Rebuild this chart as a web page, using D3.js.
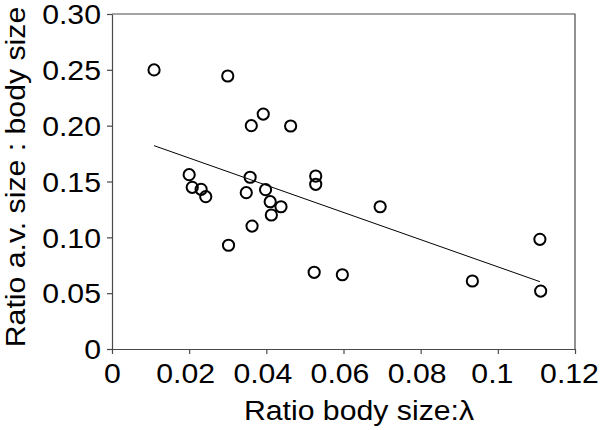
<!DOCTYPE html>
<html>
<head>
<meta charset="utf-8">
<script src="https://cdn.jsdelivr.net/npm/d3@7"></script>
<style>
  html, body { margin: 0; padding: 0; background: #fff; }
  svg { display: block; }
  text { font-family: "Liberation Sans", Arial, Helvetica, sans-serif; fill: #000; }
</style>
</head>
<body>
<svg id="chart" width="600" height="430"></svg>
<script>
// Data
const xValues = [0.0109, 0.0300, 0.0392, 0.0361, 0.0463, 0.0200, 0.0208, 0.0231, 0.0243, 0.0358,
                 0.0348, 0.0398, 0.0410, 0.0438, 0.0413, 0.0363, 0.0302, 0.0528, 0.0528, 0.0695,
                 0.0524, 0.0597, 0.0934, 0.1109, 0.1111];
const yValues = [0.2499, 0.2445, 0.2104, 0.2000, 0.1997, 0.1561, 0.1448, 0.1430, 0.1364, 0.1538,
                 0.1400, 0.1427, 0.1319, 0.1274, 0.1200, 0.1101, 0.0929, 0.1549, 0.1475, 0.1274,
                 0.0687, 0.0665, 0.0609, 0.0982, 0.0519];
const fitLineX = [0.0109, 0.1109];
const fitLineY = [0.1821, 0.0603];
const xTicks = [0, 0.02, 0.04, 0.06, 0.08, 0.1, 0.12];
const xTickLabels = ["0", "0.02", "0.04", "0.06", "0.08", "0.1", "0.12"];
const yTicks = [0, 0.05, 0.10, 0.15, 0.20, 0.25, 0.30];
const yTickLabels = ["0", "0.05", "0.10", "0.15", "0.20", "0.25", "0.30"];
const xTitle = "Ratio body size:\u03bb";
const yTitle = "Ratio a.v. size : body size";

const svg = d3.select("#chart");
const mLeft = 112, mRight = 575, mTop = 14, mBottom = 349;
const fontSize = 27;
const stretch = 1.12; // glyphs in the reference are slightly wider than Arial

const x = d3.scaleLinear().domain([0, 0.12]).range([mLeft, mRight]);
const y = d3.scaleLinear().domain([0, 0.30]).range([mBottom, mTop]);

// frame (top and right)
svg.append("path")
  .attr("d", `M${mLeft},${mTop}H${mRight}V${mBottom}`)
  .attr("fill", "none").attr("stroke", "#4a4a4a").attr("stroke-width", 1.2);

const xAxis = svg.append("g").attr("transform", `translate(0,${mBottom})`)
  .call(d3.axisBottom(x).tickValues(xTicks).tickFormat((d, i) => xTickLabels[i]).tickSize(5).tickSizeOuter(0));
const yAxis = svg.append("g").attr("transform", `translate(${mLeft},0)`)
  .call(d3.axisLeft(y).tickValues(yTicks).tickFormat((d, i) => yTickLabels[i]).tickSize(5).tickSizeOuter(0));

[xAxis, yAxis].forEach(g => {
  g.selectAll("path.domain").attr("stroke", "#4a4a4a").attr("stroke-width", 1.2);
  g.selectAll(".tick line").attr("stroke", "#4a4a4a").attr("stroke-width", 1.2);
  g.selectAll(".tick text")
    .style("font-family", '"Liberation Sans", Arial, sans-serif')
    .style("font-size", fontSize + "px")
    .attr("fill", "#000");
});
xAxis.selectAll(".tick text")
  .attr("x", 0).attr("y", 0).attr("dy", 0)
  .attr("transform", (d, i) => `translate(${i === 0 ? 0 : (i >= 5 ? -6 : -4)},34) scale(${stretch},1)`);
yAxis.selectAll(".tick text")
  .attr("x", 0).attr("dy", "0.36em")
  .attr("transform", `translate(-11,0) scale(${stretch},1)`);

// fit line
svg.append("line")
  .attr("x1", x(fitLineX[0])).attr("y1", y(fitLineY[0]))
  .attr("x2", x(fitLineX[1])).attr("y2", y(fitLineY[1]))
  .attr("stroke", "#000").attr("stroke-width", 1);

// points
svg.append("g").selectAll("circle")
  .data(xValues.map((v, i) => [v, yValues[i]]))
  .join("circle")
  .attr("cx", d => x(d[0])).attr("cy", d => y(d[1]))
  .attr("r", 5.6)
  .attr("fill", "none").attr("stroke", "#000").attr("stroke-width", 2);

// titles
svg.append("text")
  .attr("transform", `translate(359,420) scale(${stretch},1)`)
  .attr("text-anchor", "middle")
  .style("font-size", fontSize + "px")
  .text(xTitle);

svg.append("text")
  .attr("transform", `translate(25,177) rotate(-90) scale(${stretch},1)`)
  .attr("text-anchor", "middle")
  .style("font-size", fontSize + "px")
  .text(yTitle);
</script>
</body>
</html>
